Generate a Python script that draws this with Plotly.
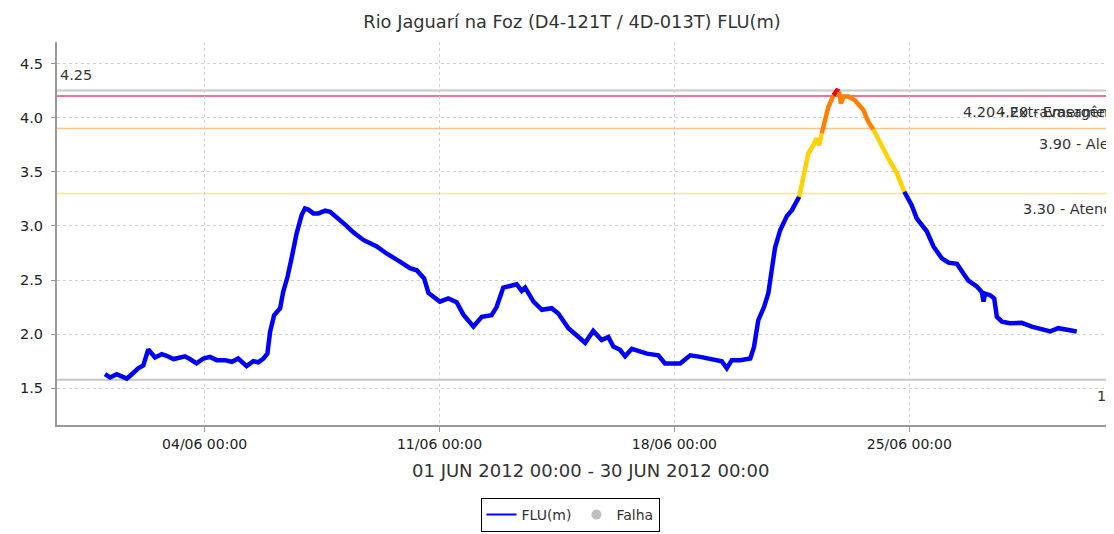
import pandas as pd
import plotly.graph_objects as go

# ---- data (days after 01/06/2012 00:00, level in m) ----
day_offsets = [
    0.03, 0.18, 0.38, 0.53, 0.68, 0.83, 1.02, 1.17, 1.32, 1.52, 1.72, 1.87, 2.07, 2.21,
    2.41, 2.56, 2.76, 2.96, 3.16, 3.36, 3.61, 3.81, 4.00, 4.25, 4.45, 4.60, 4.75, 4.87,
    4.95, 5.07, 5.25, 5.34, 5.47, 5.59, 5.74, 5.89, 5.99, 6.09, 6.24, 6.39, 6.59, 6.74,
    6.98, 7.23, 7.43, 7.73, 8.13, 8.42, 8.82, 9.12, 9.32, 9.54, 9.67, 9.82, 10.01, 10.26,
    10.51, 10.71, 11.01, 11.26, 11.55, 11.70, 11.90, 12.10, 12.30, 12.45, 12.55, 12.80,
    13.05, 13.34, 13.54, 13.84, 14.09, 14.34, 14.58, 14.83, 15.03, 15.18, 15.38, 15.53,
    15.73, 15.98, 16.18, 16.52, 16.72, 17.17, 17.47, 17.77, 18.26, 18.41, 18.56, 18.71,
    18.96, 19.26, 19.37, 19.50, 19.67, 19.80, 19.87, 20.00, 20.15, 20.35, 20.50, 20.72,
    20.84, 20.99, 21.14, 21.24, 21.31, 21.39, 21.46, 21.59, 21.74, 21.84, 21.91, 21.96,
    22.04, 22.18, 22.38, 22.63, 22.78, 22.93, 23.13, 23.38, 23.63, 23.85, 24.07, 24.22,
    24.52, 24.72, 24.97, 25.17, 25.42, 25.61, 25.76, 26.01, 26.16, 26.21, 26.26, 26.41,
    26.53, 26.61, 26.76, 27.00, 27.35, 27.65, 27.95, 28.20, 28.44, 28.69, 28.99,
]
flu_values = [
    1.63, 1.60, 1.63, 1.61, 1.59, 1.63, 1.685, 1.71, 1.86, 1.785, 1.815, 1.80, 1.77, 1.78,
    1.795, 1.77, 1.73, 1.775, 1.79, 1.76, 1.76, 1.745, 1.775, 1.705, 1.75, 1.74, 1.775, 1.82,
    2.02, 2.175, 2.24, 2.39, 2.53, 2.70, 2.93, 3.10, 3.16, 3.15, 3.115, 3.115, 3.14, 3.13,
    3.07, 3.00, 2.94, 2.87, 2.81, 2.745, 2.67, 2.61, 2.59, 2.515, 2.38, 2.34, 2.30, 2.33,
    2.295, 2.18, 2.07, 2.16, 2.175, 2.25, 2.43, 2.445, 2.46, 2.40, 2.43, 2.30,
    2.225, 2.24, 2.19, 2.055, 1.99, 1.92, 2.03, 1.945, 1.975, 1.885, 1.855, 1.795,
    1.865, 1.84, 1.82, 1.805, 1.73, 1.73, 1.805, 1.79, 1.765, 1.75, 1.685, 1.76,
    1.76, 1.775, 1.88, 2.13, 2.25, 2.38, 2.53, 2.80, 2.96, 3.09, 3.145, 3.27,
    3.455, 3.67, 3.745, 3.81, 3.745, 3.855, 3.945, 4.10, 4.205, 4.25, 4.24, 4.13,
    4.195, 4.195, 4.16, 4.07, 3.96, 3.89, 3.76, 3.62, 3.485, 3.315, 3.19, 3.07,
    2.95, 2.81, 2.70, 2.66, 2.65, 2.56, 2.495, 2.44, 2.39, 2.30, 2.375, 2.36,
    2.33, 2.16, 2.115, 2.10, 2.105, 2.07, 2.04, 2.025, 2.055, 2.04, 2.025,
]

threshold_values = [4.20, 4.20, 3.90, 3.30]
threshold_labels = ["4.20 - Extravasamento", "4.20 - Emergência", "3.90 - Alerta", "3.30 - Atenção"]
max_value = 4.25
min_value = 1.58
title_text = "Rio Jaguarí na Foz (D4-121T / 4D-013T) FLU(m)"
period_text = "01 JUN 2012 00:00 - 30 JUN 2012 00:00"
tick_dates = ["2012-06-04", "2012-06-11", "2012-06-18", "2012-06-25"]
y_ticks = [1.5, 2.0, 2.5, 3.0, 3.5, 4.0, 4.5]

# ---- styling ----
FONT = "DejaVu Sans"
TXT = "#333333"
level_colors = {0: "#0000FF", 1: "#FFD200", 2: "#FF8000", 3: "#F00000"}
thr_line_colors = {4.20: "#EE4477", 3.90: "#FFC28C", 3.30: "#FFE970"}

# page body has an 8px margin: figure is 1106x526 so the plot reaches the window edge
W, H = 1106, 526
ML, MT, PLOT_BOTTOM = 49, 34, 417
MB = H - PLOT_BOTTOM
PW, PH = W - ML, PLOT_BOTTOM - MT

base = pd.Timestamp("2012-06-01")
times = [base + pd.to_timedelta(d, unit="D") for d in day_offsets]


def level(v):
    if v >= 4.20:
        return 3
    if v >= 3.90:
        return 2
    if v >= 3.30:
        return 1
    return 0


fig = go.Figure()

# group consecutive segments of the same level into traces (sharing end points)
groups = []
for i in range(len(flu_values) - 1):
    lv = level((flu_values[i] + flu_values[i + 1]) / 2)
    if groups and groups[-1][0] == lv:
        groups[-1][1].append(i + 1)
    else:
        groups.append([lv, [i, i + 1]])

for lv, idx in groups:
    fig.add_trace(go.Scatter(
        x=[times[k] for k in idx], y=[flu_values[k] for k in idx],
        mode="lines", line=dict(color=level_colors[lv], width=4.5),
        showlegend=False, hoverinfo="skip"))

# legend entries
fig.add_trace(go.Scatter(x=[None], y=[None], mode="lines", name="FLU(m)",
                         line=dict(color="#0000FF", width=2)))
fig.add_trace(go.Scatter(x=[None], y=[None], mode="markers", name="Falha",
                         marker=dict(color="#C0C0C0", size=10, symbol="circle")))

# horizontal reference lines
for v in [max_value, min_value]:
    fig.add_hline(y=v, line=dict(color="#C8C8C8", width=2), layer="below")
for v in sorted(set(threshold_values)):
    fig.add_hline(y=v, line=dict(color=thr_line_colors[v], width=1.5), layer="below")

LABEL_X = 1 + 17 / PW
for v, t in zip(threshold_values, threshold_labels):
    fig.add_annotation(x=LABEL_X, xref="paper", y=v, yref="y", text=t, showarrow=False,
                       xanchor="right", yanchor="top", yshift=-6,
                       font=dict(family=FONT, size=14.5, color=TXT))
fig.add_annotation(x=LABEL_X, xref="paper", y=min_value, yref="y", text=f"{min_value:.2f}",
                   showarrow=False, xanchor="right", yanchor="top", yshift=-6,
                   font=dict(family=FONT, size=14.5, color=TXT))
fig.add_annotation(x=0, xref="paper", y=max_value, yref="y", text=f"{max_value:.2f}",
                   showarrow=False, xanchor="left", yanchor="bottom", xshift=1, yshift=6,
                   font=dict(family=FONT, size=14.5, color=TXT))

fig.add_annotation(x=(590 - 8 - ML) / PW, xref="paper", y=-(470 - 8 - PLOT_BOTTOM) / PH,
                   yref="paper", text=period_text, showarrow=False,
                   xanchor="center", yanchor="middle",
                   font=dict(family=FONT, size=18, color=TXT))

x_start = base - pd.Timedelta(hours=33.6)
x_end = base + pd.Timedelta(hours=722.4)

fig.update_layout(
    width=W, height=H,
    margin=dict(l=ML, r=0, t=MT, b=MB),
    paper_bgcolor="white", plot_bgcolor="white",
    font=dict(family=FONT, size=14, color=TXT),
    title=dict(text=title_text, x=(572 - 8) / W, xanchor="center", xref="container",
               y=1 - (22 - 8) / H, yanchor="middle", yref="container",
               font=dict(family=FONT, size=17.8, color=TXT)),
    showlegend=True,
    legend=dict(orientation="h", xref="container", yref="container",
                x=(570 - 8) / W, xanchor="center", y=1 - (498 - 8) / H, yanchor="top",
                bordercolor="#000000", borderwidth=1, bgcolor="white",
                font=dict(family=FONT, size=14, color=TXT),
                itemwidth=30, tracegroupgap=0),
)

fig.update_xaxes(
    range=[x_start, x_end], tickvals=[pd.Timestamp(d) for d in tick_dates],
    ticktext=[pd.Timestamp(d).strftime("%d/%m %H:%M") for d in tick_dates],
    showgrid=True, gridcolor="#D0D0D0", griddash="3px,3px", gridwidth=1,
    showline=True, linecolor="#999999", linewidth=2,
    ticks="outside", ticklen=5, tickcolor="#999999",
    tickfont=dict(family=FONT, size=14, color="#222222"), zeroline=False,
)
fig.update_yaxes(
    range=[1.161, 4.698], tickvals=y_ticks, ticktext=[f"{v:.1f}" for v in y_ticks],
    showgrid=True, gridcolor="#D0D0D0", griddash="3px,3px", gridwidth=1,
    showline=True, linecolor="#999999", linewidth=2,
    ticks="outside", ticklen=4, tickcolor="#999999", ticklabelstandoff=5,
    tickfont=dict(family=FONT, size=14.5, color="#222222"), zeroline=False,
)

fig.write_html("out.html")
